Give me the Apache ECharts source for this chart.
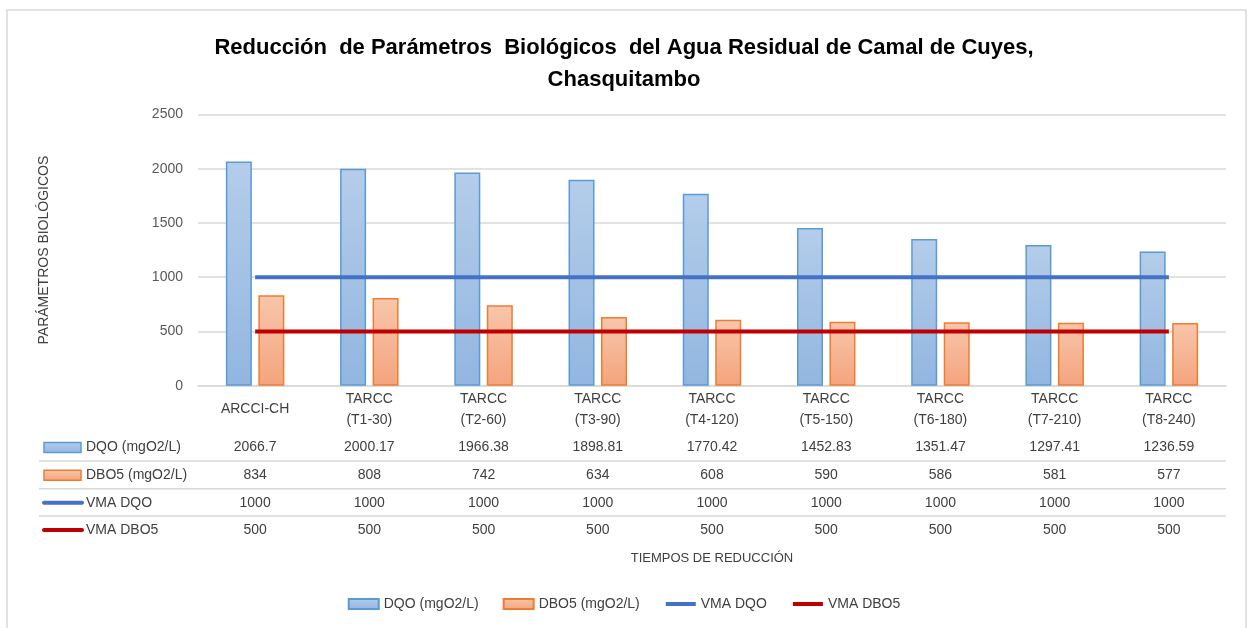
<!DOCTYPE html>
<html>
<head>
<meta charset="utf-8">
<script src="https://cdn.jsdelivr.net/npm/echarts@6/dist/echarts.min.js"></script>
<style>
  html, body { margin: 0; padding: 0; background: #fff; }
  #chart { width: 1248px; height: 628px; }
</style>
</head>
<body>
<div id="chart"></div>
<script>
// datos
const categories = ['ARCCI-CH', 'TARCC\n(T1-30)', 'TARCC\n(T2-60)', 'TARCC\n(T3-90)', 'TARCC\n(T4-120)',
  'TARCC\n(T5-150)', 'TARCC\n(T6-180)', 'TARCC\n(T7-210)', 'TARCC\n(T8-240)']
const dqo = [2066.7, 2000.17, 1966.38, 1898.81, 1770.42, 1452.83, 1351.47, 1297.41, 1236.59]
const dbo5 = [834, 808, 742, 634, 608, 590, 586, 581, 577]
const vmaDqo = [1000, 1000, 1000, 1000, 1000, 1000, 1000, 1000, 1000]
const vmaDbo5 = [500, 500, 500, 500, 500, 500, 500, 500, 500]
const seriesNames = ['DQO (mgO2/L)', 'DBO5 (mgO2/L)', 'VMA DQO', 'VMA DBO5']
const yTicks = { min: 0, max: 2500, interval: 500 }

const FONT = 'Liberation Sans'
const TXT = '#404040'
const GRID = { left: 198, right: 22, top: 114.5, bottom: 242.3 }
const axisY0 = 628 - GRID.bottom

const blueFill = new echarts.graphic.LinearGradient(0, 0, 0, 1, [
  { offset: 0, color: '#b4cdea' }, { offset: 1, color: '#92b6e0' }])
const orangeFill = new echarts.graphic.LinearGradient(0, 0, 0, 1, [
  { offset: 0, color: '#f8c6ab' }, { offset: 1, color: '#f4a47d' }])

// filas de la tabla de datos (una por serie)
const tableRows = [dqo, dbo5, vmaDqo, vmaDbo5]
const rowCenters = [447.5, 475.3, 502.7, 530]
const rowLines = [461, 488.7, 516]

const xAxes = [{
  type: 'category',
  data: categories,
  axisLine: { lineStyle: { color: '#d9d9d9', width: 1.5 } },
  axisTick: { show: false },
  axisLabel: { color: TXT, fontFamily: FONT, fontSize: 14, lineHeight: 21,
    verticalAlign: 'middle', margin: 23.5 }
}]
tableRows.forEach((row, i) => {
  xAxes.push({
    type: 'category',
    position: 'bottom',
    data: row.map(v => String(v)),
    offset: rowCenters[i] - axisY0,
    axisLine: { show: false },
    axisTick: { show: false },
    axisLabel: { color: TXT, fontFamily: FONT, fontSize: 14, verticalAlign: 'middle', margin: 0 }
  })
})

const graphics = [
  { type: 'rect', shape: { x: 7, y: 10, width: 1239, height: 640 }, silent: true,
    style: { fill: 'none', stroke: '#d9d9d9', lineWidth: 1.5 } },
  { type: 'text', x: (GRID.left + 1248 - GRID.right) / 2, y: 558,
    style: { text: 'TIEMPOS DE REDUCCIÓN', fill: TXT, font: '13px ' + FONT, align: 'center', verticalAlign: 'middle' } }
]
rowLines.forEach(y => {
  graphics.push({ type: 'line', shape: { x1: 39, y1: y, x2: 1226, y2: y }, silent: true,
    style: { stroke: '#d9d9d9', lineWidth: 1.5 } })
})
seriesNames.forEach((name, i) => {
  const cy = rowCenters[i]
  if (i < 2) {
    graphics.push({ type: 'rect', shape: { x: 44, y: cy - 5, width: 37, height: 10 },
      style: { fill: i === 0 ? blueFill : orangeFill, stroke: i === 0 ? '#5b9bd5' : '#ed7d31', lineWidth: 1.5 } })
  } else {
    graphics.push({ type: 'line', shape: { x1: 44, y1: cy, x2: 82, y2: cy },
      style: { stroke: i === 2 ? '#4472c4' : '#c00000', lineWidth: 4, lineCap: 'round' } })
  }
  graphics.push({ type: 'text', x: 86, y: cy,
    style: { text: name, fill: TXT, font: '14px ' + FONT, verticalAlign: 'middle' } })
})

const chart = echarts.init(document.getElementById('chart'))
chart.setOption({
  backgroundColor: '#ffffff',
  animation: false,
  title: {
    text: 'Reducción  de Parámetros  Biológicos  del Agua Residual de Camal de Cuyes,\nChasquitambo',
    left: 'center',
    top: 27,
    textStyle: { fontFamily: FONT, fontSize: 22, fontWeight: 'bold', color: '#000', lineHeight: 32 }
  },
  legend: {
    bottom: 12,
    left: 'center',
    itemWidth: 30,
    itemHeight: 10,
    itemGap: 24,
    textStyle: { fontFamily: FONT, fontSize: 14, color: TXT },
    data: [
      { name: seriesNames[0], icon: 'rect' },
      { name: seriesNames[1], icon: 'rect' },
      { name: seriesNames[2], itemStyle: { opacity: 0 }, lineStyle: { width: 4 } },
      { name: seriesNames[3], itemStyle: { opacity: 0 }, lineStyle: { width: 4 } }
    ]
  },
  grid: GRID,
  xAxis: xAxes,
  yAxis: {
    type: 'value',
    min: yTicks.min,
    max: yTicks.max,
    interval: yTicks.interval,
    name: 'PARÁMETROS BIOLÓGICOS',
    nameLocation: 'middle',
    nameGap: 147,
    nameTextStyle: { fontFamily: FONT, fontSize: 14, color: TXT },
    axisLine: { show: false },
    axisTick: { show: false },
    axisLabel: { color: '#595959', fontFamily: FONT, fontSize: 14, margin: 15, formatter: v => String(v) },
    splitLine: { lineStyle: { color: '#d9d9d9', width: 1.5 } }
  },
  series: [
    { name: seriesNames[0], type: 'bar', data: dqo, barWidth: 26, barGap: '25%',
      itemStyle: { color: blueFill, borderColor: '#5b9bd5', borderWidth: 1.5 } },
    { name: seriesNames[1], type: 'bar', data: dbo5, barWidth: 26,
      itemStyle: { color: orangeFill, borderColor: '#ed7d31', borderWidth: 1.5 } },
    { name: seriesNames[2], type: 'line', data: vmaDqo, symbol: 'none', z: 5,
      lineStyle: { color: '#4472c4', width: 4 }, itemStyle: { color: '#4472c4' } },
    { name: seriesNames[3], type: 'line', data: vmaDbo5, symbol: 'none', z: 5,
      lineStyle: { color: '#c00000', width: 4 }, itemStyle: { color: '#c00000' } }
  ],
  graphic: graphics
})
</script>
</body>
</html>
